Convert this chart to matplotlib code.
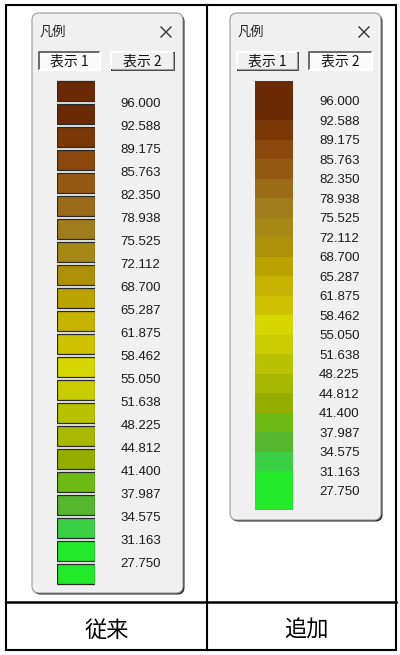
import numpy as np
import matplotlib.pyplot as plt
from matplotlib.patches import Rectangle, FancyBboxPatch

# legend values (thresholds between colour classes)
thresholds = [96.000, 92.588, 89.175, 85.763, 82.350, 78.938, 75.525, 72.112,
              68.700, 65.287, 61.875, 58.462, 55.050, 51.638, 48.225, 44.812,
              41.400, 37.987, 34.575, 31.163, 27.750]

# one colour per class (above the first threshold down to below the last)
class_colors = ['#6B2A06', '#6B2A06', '#7A3808', '#8A480C', '#945A14', '#9A6C18',
                '#A07C1C', '#A68816', '#AE9008', '#BAA200', '#C6B200', '#CEC200',
                '#D6D600', '#C8CC00', '#B8C200', '#A6B800', '#94AE00', '#6EBA14',
                '#55B52D', '#3ACF45', '#22EA2A', '#22EA2A']

window_title = '凡例'
button_labels = ['表示 1', '表示 2']
column_titles = ['従来', '追加']

W, H = 400, 655
plt.rcParams['font.family'] = ['Liberation Sans', 'Noto Sans CJK JP', 'DejaVu Sans']
cjk = ['Noto Sans CJK JP', 'DejaVu Sans']

fig = plt.figure(figsize=(W / 100, H / 100), dpi=100)
fig.patch.set_facecolor('white')
bg = fig.add_axes([0, 0, 1, 1])
bg.set_xlim(0, W)
bg.set_ylim(H, 0)
bg.axis('off')


def px_axes(x0, y0, x1, y1):
    return fig.add_axes([x0 / W, 1 - y1 / H, (x1 - x0) / W, (y1 - y0) / H])


# table frame
bg.add_patch(Rectangle((6, 5), 390, 645, fill=False, ec='black', lw=1.5))
bg.plot([207, 207], [5, 650], color='black', lw=1.5)
bg.plot([6, 396], [602, 602], color='black', lw=1.8)
for x, t in zip([107, 306], column_titles):
    bg.text(x, 630, t, ha='center', va='center', fontsize=16, family=cjk)


def draw_button(x0, y0, x1, y1, label, pressed):
    face = '#FAFAFA' if pressed else '#F0F0F0'
    bg.add_patch(Rectangle((x0, y0), x1 - x0, y1 - y0, fc=face, ec='none'))
    tl = '#6A6A6A' if pressed else 'white'
    br = 'white' if pressed else '#404040'
    bg.plot([x0, x0, x1], [y1, y0, y0], color=tl, lw=1.4, solid_capstyle='butt')
    bg.plot([x0, x1, x1], [y1, y1, y0], color=br, lw=1.4, solid_capstyle='butt')
    if not pressed:
        bg.plot([x0 + 1, x1 - 1.5, x1 - 1.5], [y1 - 1.5, y1 - 1.5, y0 + 1],
                color='#A0A0A0', lw=0.8)
    bg.text((x0 + x1) / 2, (y0 + y1) / 2 + 0.5, label, ha='center', va='center',
            fontsize=10, color='#111111', family=cjk)


def draw_window(x0, y0, x1, y1, active):
    bg.add_patch(FancyBboxPatch((x0 + 1.5, y0 + 1.5), x1 - x0, y1 - y0,
                                boxstyle='round,pad=0,rounding_size=7',
                                fc='#1E1E1E', ec='none'))
    bg.add_patch(FancyBboxPatch((x0, y0), x1 - x0, y1 - y0,
                                boxstyle='round,pad=0,rounding_size=7',
                                fc='#F0F0F0', ec='#9A9A9A', lw=0.8))
    bg.text(x0 + 8, y0 + 19, window_title, ha='left', va='center', fontsize=9.5,
            color='#222222', family=cjk)
    cx, cy = x1 - 17, y0 + 19
    bg.plot([cx - 5, cx + 5], [cy - 5, cy + 5], color='#333333', lw=1)
    bg.plot([cx - 5, cx + 5], [cy + 5, cy - 5], color='#333333', lw=1)
    draw_button(x0 + 7, y0 + 39, x0 + 68, y0 + 57, button_labels[0], active == 0)
    draw_button(x0 + 79, y0 + 39, x0 + 142, y0 + 57, button_labels[1], active == 1)


draw_window(32, 13, 183, 593, 0)
draw_window(230, 13, 381, 520, 1)

n = len(class_colors)
pos = np.arange(n) + 0.5

# 表示 1: separate swatches
ax1 = px_axes(57, 79.5, 95, 585.5)
ax1.barh(pos, 1, height=20 / 23, color=class_colors, edgecolor='#2A2A2A', linewidth=0.9)

# 表示 2: continuous bar
ax2 = px_axes(255, 81.3, 292.7, 510)
ax2.barh(pos, 1, height=1.0, color=class_colors, edgecolor='none')

for ax, pad in [(ax1, 18.5), (ax2, 19)]:
    ax.set_xlim(0, 1)
    ax.set_ylim(n, 0)
    ax.set_facecolor('none')
    for s in ax.spines.values():
        s.set_visible(False)
    ax.set_xticks([])
    ax.yaxis.tick_right()
    ax.set_yticks(np.arange(1, n))
    ax.set_yticklabels([f'{v:.3f}' for v in thresholds], fontsize=9.5, color='#1A1A1A')
    ax.tick_params(axis='y', length=0, pad=pad)

fig.savefig('out.png', dpi=100)
